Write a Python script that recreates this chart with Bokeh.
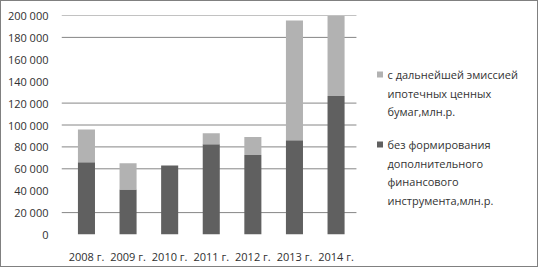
from bokeh.plotting import figure
from bokeh.models import Range1d, FixedTicker, ColumnDataSource
from bokeh.core.properties import value
from bokeh.embed import file_html
from bokeh.resources import INLINE

years = ["2008 г.", "2009 г.", "2010 г.", "2011 г.", "2012 г.", "2013 г.", "2014 г."]
base_vals = [66000, 41000, 63000, 82500, 72500, 86000, 126500]
extra_vals = [30000, 24000, 0, 10000, 16500, 109500, 73000]
y_ticks = [0, 20000, 40000, 60000, 80000, 100000, 120000, 140000, 160000, 180000, 200000]
grid_vals = [20000, 60000, 80000, 100000, 120000, 180000, 200000]
label_extra = ["с дальнейшей эмиссией", "ипотечных ценных", "бумаг,млн.р."]
label_base = ["без формирования", "дополнительного", "финансового", "инструмента,млн.р."]
colors = ["#606060", "#b2b2b2"]

W, H = 538, 267
ML, MR, MT, MB = 60, 1, 14, 34
frame_w, frame_h = W - ML - MR, H - MT - MB
step_px = 41.6                      # pixels per category
x0 = -0.6
x_plot_end = 6.49                   # end of the bar area (category units)
x1 = x0 + frame_w / step_px
ymax = 200000
upx = ymax / frame_h                # value units per pixel

idx = list(range(len(years)))
src = ColumnDataSource(dict(x=idx, base=base_vals, extra=extra_vals))

p = figure(width=W, height=H, output_backend="svg", toolbar_location=None,
           x_range=Range1d(x0, x1), y_range=Range1d(0, ymax),
           min_border_left=ML, min_border_right=MR, min_border_top=MT, min_border_bottom=MB,
           styles={"border": "1px solid #808080"})
p.outline_line_color = None
p.background_fill_color = "white"
p.border_fill_color = "white"
p.grid.visible = False

# horizontal gridlines limited to the plot area
p.segment(x0=[x0] * len(grid_vals), x1=[x_plot_end] * len(grid_vals),
          y0=grid_vals, y1=grid_vals, line_color="#868686", line_width=1)

r = p.vbar_stack(["base", "extra"], x="x", width=0.41, source=src,
                 color=colors, line_color=None)

p.yaxis.ticker = FixedTicker(ticks=y_ticks)
p.yaxis.major_label_overrides = {v: f"{v:,}".replace(",", " ") for v in y_ticks}
p.xaxis.ticker = FixedTicker(ticks=idx)
p.xaxis.major_label_overrides = {i: y for i, y in enumerate(years)}
for ax in (p.xaxis[0], p.yaxis[0]):
    ax.axis_line_color = None
    ax.major_tick_line_color = None
    ax.minor_tick_line_color = None
    ax.major_label_text_font = "Open Sans"
    ax.major_label_text_font_size = "11px"
    ax.major_label_text_color = "#303030"
p.yaxis.major_label_standoff = 7
p.xaxis.major_label_standoff = 8

# legend drawn in the right part of the frame (positions in pixels -> data units)
frame_top = MT + 1
def px_to_x(px):
    return x0 + (px - (ML + 1)) / step_px
def py_to_y(py):
    return ymax - (py - frame_top) * upx

line_step = 18.5
entries = [(label_extra, colors[1], 74.0), (label_base, colors[0], 144.0)]
tx, ty, tt, sx, sy, sc = [], [], [], [], [], []
for lines, col, top in entries:
    sx.append(px_to_x(379.5))
    sy.append(py_to_y(top))
    sc.append(col)
    for k, t in enumerate(lines):
        tx.append(px_to_x(387))
        ty.append(py_to_y(top + k * line_step))
        tt.append(t)
p.rect(x=sx, y=sy, width=6, height=6, width_units="screen", height_units="screen",
       color=sc, line_color=None)
p.text(x=tx, y=ty, text=tt, text_font=value("Open Sans"), text_font_size="11px",
       text_color="#333333", text_baseline="middle", text_align="left")

open("out.html", "w").write(file_html(p, INLINE))
